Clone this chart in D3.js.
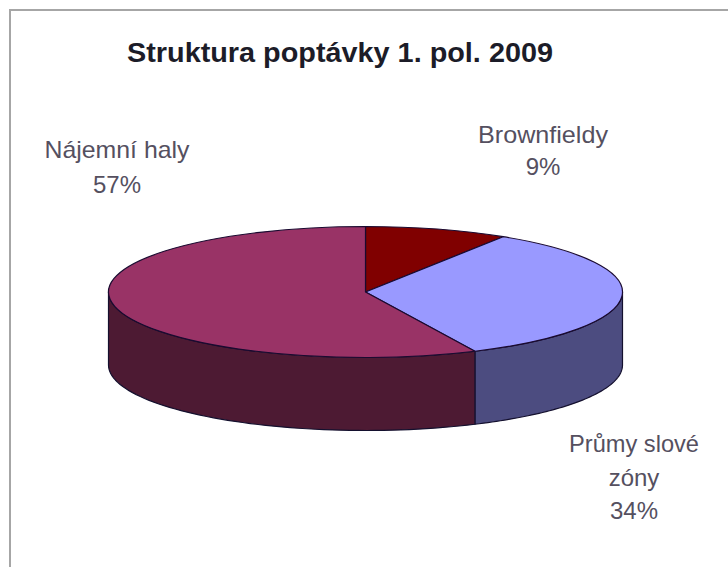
<!DOCTYPE html>
<html>
<head>
<meta charset="utf-8">
<script src="https://cdn.jsdelivr.net/npm/d3@7/dist/d3.min.js"></script>
<style>
html,body{margin:0;padding:0;background:#fff}
svg{display:block}
text{font-family:"Liberation Sans",Arial,sans-serif}
</style>
</head>
<body>
<script>
const categories = ["Brownfieldy", "Průmyslové zóny", "Nájemní haly"];
const shares = [9, 34, 57];
const labelLines = [["Brownfieldy", "9%"], ["Průmy slové", "zóny", "34%"], ["Nájemní haly", "57%"]];
const topColors = ["#800000", "#9999ff", "#993366"];
const sideColors = ["#400000", "#4c4c80", "#4d1a33"];
const labelAnchors = [[543, 143], [634, 452], [117, 158]];
const labelPitch = [32, 33.5, 35];
const labelWidths = [130, 130, 145];
const chartTitle = "Struktura poptávky 1. pol. 2009";

const width = 728, height = 567;
const cx = 365.5, cy = 292, rx = 257, ry = 65.5, depth = 73;

const svg = d3.select("body").append("svg")
  .attr("width", width).attr("height", height);

// Chart frame; its right and bottom edges run past the page
svg.append("rect")
  .attr("x", 10).attr("y", 10)
  .attr("width", 730).attr("height", 570)
  .attr("fill", "#fff").attr("stroke", "#a6a6a6").attr("stroke-width", 2);

svg.append("text")
  .attr("x", 340).attr("y", 62)
  .attr("text-anchor", "middle")
  .attr("font-size", 27).attr("font-weight", "bold").attr("fill", "#1c1c28")
  .attr("textLength", 426).attr("lengthAdjust", "spacingAndGlyphs")
  .text(chartTitle);

const pie = d3.pie().value(d => d).sort(null);
const slices = pie(shares);

// Projects a pie angle (0 = up, clockwise) onto the tilted ellipse.
const px = a => cx + rx * Math.sin(a);
const py = (a, drop = 0) => cy - ry * Math.cos(a) + drop;

// Side walls: the part of each slice's rim that faces the viewer.
const rimLine = d3.line().x(d => d.x).y(d => d.y);
const frontStart = Math.PI / 2, frontEnd = 3 * Math.PI / 2;
slices.forEach((s, i) => {
  const a0 = Math.max(s.startAngle, frontStart);
  const a1 = Math.min(s.endAngle, frontEnd);
  if (a1 <= a0) return;
  const angles = d3.range(0, 61).map(k => a0 + (a1 - a0) * k / 60);
  const pts = angles.map(a => ({x: px(a), y: py(a)}))
    .concat(angles.slice().reverse().map(a => ({x: px(a), y: py(a, depth)})));
  svg.append("path")
    .attr("d", rimLine(pts) + "Z")
    .attr("fill", sideColors[i])
    .attr("stroke", "#14102e").attr("stroke-width", 1.2)
    .attr("stroke-linejoin", "round");
});

// Top face: an arc squashed vertically into the tilted ellipse.
const arc = d3.arc().innerRadius(0).outerRadius(rx);
svg.append("g")
  .attr("transform", `translate(${cx},${cy}) scale(1,${ry / rx})`)
  .selectAll("path").data(slices).join("path")
  .attr("d", arc)
  .attr("fill", (d, i) => topColors[i])
  .attr("stroke", "#1a0a30").attr("stroke-width", 1.2)
  .attr("vector-effect", "non-scaling-stroke")
  .attr("stroke-linejoin", "round");

// Data labels: the first line of each is fitted to its measured width.
labelLines.forEach((lines, i) => {
  lines.forEach((ln, j) => {
    const t = svg.append("text")
      .attr("x", labelAnchors[i][0])
      .attr("y", labelAnchors[i][1] + j * labelPitch[i])
      .attr("text-anchor", "middle")
      .attr("font-size", 24).attr("fill", "#55505f")
      .text(ln);
    if (j === 0) t.attr("textLength", labelWidths[i]).attr("lengthAdjust", "spacingAndGlyphs");
  });
});
</script>
</body>
</html>
